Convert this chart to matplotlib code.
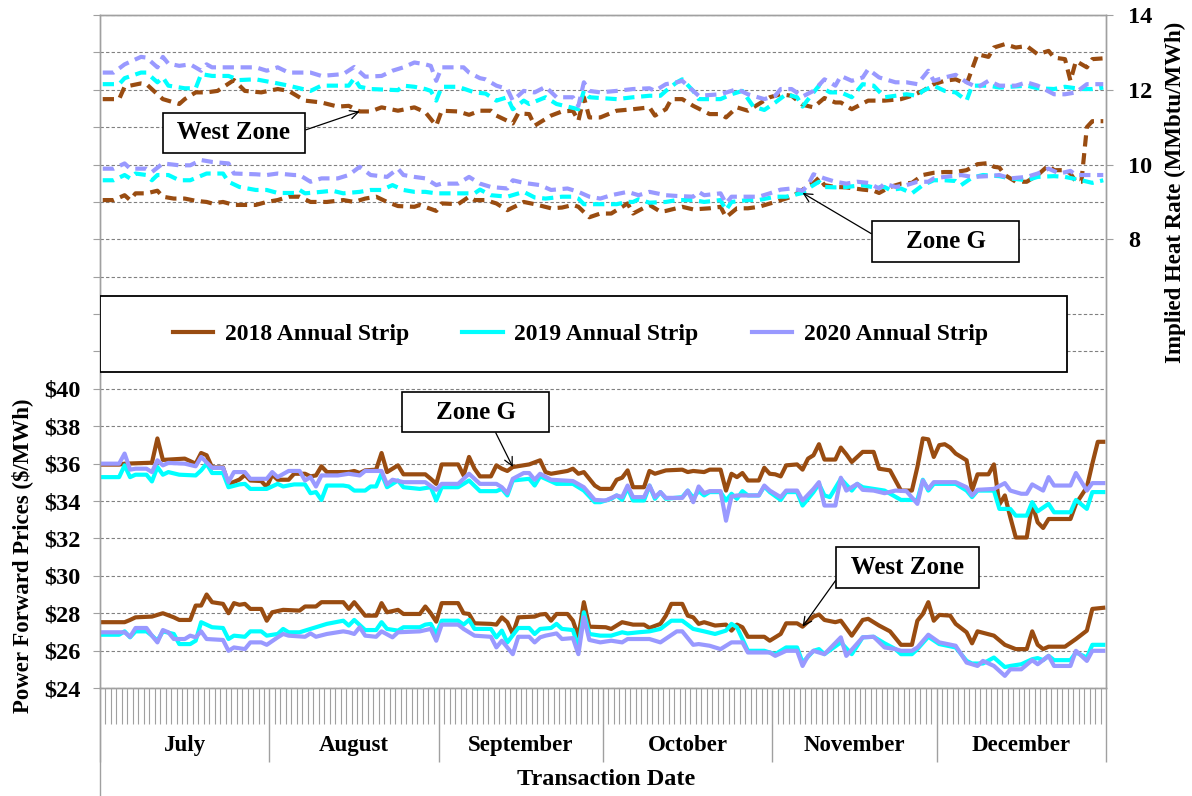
import numpy as np
import matplotlib
matplotlib.use('Agg')
import matplotlib.pyplot as plt
import matplotlib.transforms as mtransforms
from matplotlib.lines import Line2D
from matplotlib.patches import Rectangle
from matplotlib.ticker import FuncFormatter

plt.rcParams['font.family'] = ['Liberation Serif', 'DejaVu Serif']
plt.rcParams['font.weight'] = 'bold'
plt.rcParams['axes.labelweight'] = 'bold'

months = ['July', 'August', 'September', 'October', 'November', 'December']
month_days = [31, 31, 30, 31, 30, 31]
strips = ['2018 Annual Strip', '2019 Annual Strip', '2020 Annual Strip']
colors = ['#994C11', '#00FFFF', '#9999FF']

# (day since July 1, $/MWh) forward prices
zone_g_18 = [(0,35.95),(3,35.95),(4,36.0),(9,36.05),(10,37.35),(11,36.2),(15,36.27),(17,36.0),(18,36.57),(19,36.45),(20,35.8),(22,35.8),(23,34.9),(25,35.15),(26,35.4),(27,35.1),(29,35.07),(30,34.75),(31,35.41),(32,35.14),(34,35.14),(35,35.46),(37,35.46),(38,35.32),(39,35.37),(40,35.86),(41,35.55),(45,35.55),(46,35.61),(47,35.5),(48,35.64),(50,35.68),(51,36.57),(52,35.55),(54,35.91),(55,35.43),(59,35.43),(60,35.19),(61,34.92),(62,35.96),(65,35.96),(66,35.37),(67,36.36),(68,35.73),(69,35.32),(71,35.32),(72,35.91),(73,35.73),(74,35.61),(75,35.82),(78,35.96),(80,36.18),(81,35.55),(82,35.46),(85,35.61),(86,35.73),(87,35.46),(88,35.55),(90,34.83),(91,34.65),(93,34.65),(94,35.14),(95,35.25),(96,35.64),(97,34.74),(99,34.74),(100,35.61),(101,35.46),(103,35.64),(106,35.68),(107,35.55),(108,35.61),(110,35.55),(111,35.68),(113,35.68),(114,34.56),(115,35.46),(116,35.28),(117,35.5),(118,35.1),(120,35.1),(121,35.78),(122,35.46),(123,35.43),(124,35.32),(125,35.91),(127,35.96),(128,35.68),(129,36.27),(130,36.45),(131,37.04),(132,36.22),(134,36.22),(135,36.86),(136,36.5),(137,36.09),(139,36.63),(141,36.63),(142,35.73),(144,35.64),(146,34.56),(148,34.56),(149,35.82),(150,37.35),(151,37.3),(152,36.36),(153,36.99),(154,37.04),(155,36.86),(156,36.54),(158,36.18),(159,34.56),(160,35.43),(162,35.43),(163,35.96),(164,33.82),(165,34.3),(166,33.13),(167,32.05),(169,32.05),(170,33.85),(171,32.86),(172,32.56),(173,33.04),(177,33.04),(178,33.85),(180,34.74),(181,36.0),(182,37.17),(183,37.17)]
zone_g_19 = [(0,35.28),(3,35.28),(4,35.91),(5,35.28),(6,35.41),(8,35.41),(9,35.05),(10,35.82),(11,35.41),(12,35.55),(14,35.41),(17,35.37),(18,35.64),(19,36.0),(20,35.5),(22,35.5),(23,34.74),(25,34.89),(26,34.92),(27,34.65),(30,34.65),(32,34.92),(33,34.78),(35,34.89),(37,34.89),(38,34.42),(39,34.48),(40,34.06),(41,34.83),(44,34.83),(45,34.78),(46,34.56),(48,34.56),(49,34.78),(50,34.78),(51,35.46),(52,34.74),(54,35.1),(55,34.74),(58,34.65),(60,34.74),(61,34.03),(62,34.74),(65,34.74),(67,35.1),(69,34.53),(72,34.53),(73,34.65),(74,34.3),(75,35.1),(78,35.19),(79,34.83),(80,35.32),(83,34.92),(86,34.92),(88,34.56),(90,33.94),(91,33.94),(93,34.12),(94,34.3),(95,34.06),(96,34.71),(97,34.03),(99,34.03),(100,34.83),(101,34.12),(102,34.48),(103,34.12),(106,34.21),(107,34.56),(108,34.17),(109,34.53),(110,34.3),(111,34.48),(113,34.48),(114,34.03),(115,34.39),(116,34.12),(117,34.53),(118,34.3),(120,34.3),(121,34.78),(122,34.48),(124,34.06),(125,34.48),(127,34.48),(128,33.76),(130,34.48),(131,34.92),(132,34.3),(133,34.21),(135,35.19),(137,34.56),(138,34.92),(139,34.74),(141,34.65),(143,34.56),(146,34.06),(149,34.06),(150,35.14),(151,34.56),(152,34.92),(156,34.92),(158,34.56),(159,34.21),(160,34.56),(163,34.56),(164,33.58),(166,33.58),(167,33.22),(169,33.22),(170,33.94),(171,33.45),(173,33.85),(174,33.4),(177,33.4),(178,34.06),(180,33.58),(181,34.48),(183,34.48)]
zone_g_20 = [(0,36.0),(3,36.0),(4,36.54),(5,35.68),(6,35.73),(8,35.73),(9,35.55),(10,36.18),(11,35.91),(12,36.04),(15,36.0),(17,35.86),(18,36.36),(20,35.78),(22,35.78),(23,35.01),(24,35.55),(26,35.55),(27,35.19),(30,35.19),(31,35.55),(32,35.28),(34,35.61),(36,35.61),(37,35.1),(38,35.28),(39,34.78),(40,35.37),(43,35.37),(45,35.46),(47,35.37),(48,35.61),(51,35.61),(52,34.89),(53,35.14),(55,35.01),(59,35.01),(61,34.6),(62,34.92),(65,34.92),(67,35.46),(69,34.92),(72,34.92),(73,34.74),(74,34.42),(75,35.19),(77,35.5),(78,35.5),(79,35.14),(80,35.46),(82,35.14),(86,35.07),(88,34.74),(90,34.06),(92,34.03),(94,34.3),(95,34.21),(96,34.83),(97,34.21),(99,34.21),(100,34.83),(101,34.21),(102,34.48),(103,34.17),(106,34.17),(107,34.56),(108,33.94),(109,34.78),(110,34.42),(111,34.53),(113,34.53),(114,32.95),(115,34.24),(116,34.3),(120,34.3),(121,34.83),(122,34.56),(124,34.21),(125,34.56),(127,34.56),(128,34.03),(130,34.65),(131,35.01),(132,33.76),(134,33.76),(135,35.25),(136,34.56),(138,34.92),(139,34.6),(141,34.56),(143,34.42),(145,34.56),(147,34.53),(149,33.85),(150,35.1),(151,34.65),(152,35.01),(156,35.01),(158,34.74),(159,34.3),(160,34.6),(163,34.65),(165,34.96),(166,34.56),(168,34.39),(169,34.39),(170,34.89),(172,34.56),(173,35.28),(174,34.83),(177,34.83),(178,35.5),(180,34.56),(181,34.96),(183,34.96)]
west_18 = [(0,27.52),(4,27.52),(5,27.64),(6,27.78),(9,27.82),(11,28.0),(13,27.78),(14,27.64),(16,27.64),(17,28.41),(18,28.41),(19,29.0),(20,28.59),(22,28.5),(23,28.0),(24,28.54),(25,28.45),(26,28.5),(27,28.23),(29,28.23),(30,27.6),(31,28.05),(33,28.18),(36,28.14),(37,28.36),(39,28.36),(40,28.59),(44,28.59),(45,28.23),(46,28.59),(48,27.87),(50,27.87),(51,28.54),(52,28.05),(54,28.18),(55,27.96),(58,27.96),(59,28.36),(60,28.0),(61,27.55),(62,28.54),(65,28.54),(66,28.0),(67,27.96),(68,27.46),(71,27.43),(72,27.39),(73,27.78),(74,27.52),(75,26.89),(76,27.78),(79,27.82),(80,27.93),(81,27.96),(82,27.6),(83,27.96),(85,27.96),(86,27.6),(87,26.74),(88,28.59),(89,27.28),(92,27.25),(93,27.16),(95,27.52),(97,27.39),(99,27.39),(100,27.21),(102,27.43),(103,27.87),(104,28.5),(106,28.5),(107,27.87),(108,27.78),(109,27.43),(110,27.52),(112,27.34),(114,27.39),(115,27.07),(116,27.39),(117,27.25),(118,26.74),(121,26.74),(122,26.53),(124,26.89),(125,27.46),(127,27.46),(128,27.28),(130,27.82),(131,27.93),(132,27.64),(134,27.52),(135,27.6),(137,26.8),(139,27.64),(140,27.7),(142,27.34),(144,27.03),(146,26.31),(148,26.31),(149,27.6),(150,27.96),(151,28.59),(152,27.6),(153,27.91),(155,27.87),(156,27.43),(158,26.98),(159,26.39),(160,27.03),(163,26.8),(165,26.31),(167,26.08),(169,26.08),(170,27.03),(171,26.31),(172,26.08),(173,26.21),(176,26.21),(178,26.62),(180,27.07),(181,28.23),(183,28.29)]
west_19 = [(0,26.85),(3,26.85),(4,27.03),(5,26.71),(6,27.03),(8,27.03),(9,26.8),(10,26.53),(11,27.03),(13,26.89),(14,26.35),(16,26.35),(17,26.53),(18,27.52),(20,27.25),(22,27.21),(23,26.62),(24,26.8),(26,26.74),(27,27.03),(29,27.03),(30,26.8),(32,26.89),(33,27.16),(34,26.98),(36,26.98),(38,27.16),(39,27.25),(41,27.43),(44,27.6),(45,27.34),(46,27.64),(48,27.1),(50,27.1),(51,27.52),(52,27.16),(54,27.07),(55,27.25),(58,27.25),(59,27.39),(60,27.43),(61,26.89),(62,27.6),(65,27.6),(66,27.39),(67,27.64),(68,27.16),(71,27.16),(72,26.71),(73,27.07),(74,26.44),(76,27.21),(78,27.21),(79,26.89),(80,27.16),(82,27.21),(83,27.43),(84,27.16),(86,27.1),(87,26.17),(88,28.05),(89,26.89),(91,26.8),(93,26.8),(95,26.98),(96,26.92),(98,26.98),(100,27.03),(102,27.16),(104,27.6),(106,27.6),(108,27.16),(110,27.03),(112,26.89),(114,27.07),(115,27.43),(116,27.25),(118,25.99),(121,25.99),(122,25.9),(123,25.81),(125,26.17),(127,26.17),(128,25.36),(130,25.99),(131,26.08),(132,25.81),(135,26.44),(137,25.81),(139,26.71),(141,26.74),(143,26.39),(145,26.08),(146,25.81),(148,25.81),(149,26.08),(151,26.74),(153,26.35),(156,26.17),(158,25.45),(159,25.31),(161,25.31),(163,25.63),(165,25.12),(166,25.18),(168,25.27),(170,25.54),(171,25.6),(172,25.49),(173,25.72),(174,25.49),(177,25.49),(178,25.9),(180,25.63),(181,26.31),(183,26.31)]
west_20 = [(0,26.98),(4,26.98),(5,26.74),(6,27.21),(8,27.21),(9,26.8),(10,26.44),(11,27.1),(12,26.98),(13,26.62),(15,26.62),(16,26.8),(17,26.71),(18,27.03),(19,26.62),(22,26.57),(23,25.99),(24,26.17),(26,26.08),(27,26.44),(29,26.44),(30,26.31),(32,26.71),(33,26.89),(34,26.8),(37,26.74),(38,26.92),(39,26.74),(41,26.89),(44,27.03),(45,26.98),(46,26.89),(47,27.25),(48,26.8),(50,26.74),(51,27.03),(53,26.71),(54,26.98),(58,27.03),(60,27.16),(61,26.53),(62,27.39),(65,27.39),(66,27.16),(68,26.8),(71,26.74),(72,26.17),(73,26.53),(75,25.81),(76,26.74),(78,26.74),(79,26.44),(80,26.71),(81,26.8),(83,26.92),(84,26.62),(86,26.67),(87,25.81),(88,27.78),(89,26.57),(91,26.44),(93,26.53),(95,26.44),(96,26.62),(100,26.62),(102,26.44),(105,27.03),(106,27.03),(108,26.31),(109,26.35),(111,26.26),(113,26.08),(115,26.44),(117,26.44),(118,25.9),(122,25.9),(123,25.72),(125,25.99),(127,25.99),(128,25.18),(129,25.72),(130,25.99),(132,25.81),(135,26.71),(136,25.72),(139,26.71),(141,26.74),(143,26.17),(145,26.08),(146,25.99),(148,25.99),(149,26.17),(151,26.85),(153,26.44),(156,26.26),(158,25.36),(160,25.18),(161,25.45),(163,25.18),(165,24.65),(166,25.0),(168,25.0),(170,25.49),(171,25.27),(173,25.72),(174,25.18),(177,25.18),(178,25.99),(180,25.45),(181,25.99),(183,25.99)]

# (day since July 1, MMbtu/MWh) implied heat rates
west_hr_18 = [(0,11.75),(3,11.75),(4,12.08),(7,12.17),(8,12.15),(10,11.88),(11,11.75),(14,11.62),(15,11.75),(17,11.93),(19,11.93),(21,11.97),(24,12.26),(26,11.97),(29,11.93),(32,12.02),(34,11.97),(37,11.71),(40,11.66),(43,11.55),(45,11.57),(47,11.42),(49,11.42),(51,11.53),(54,11.44),(57,11.53),(59,11.4),(61,11.04),(62,11.44),(65,11.42),(67,11.33),(69,11.44),(71,11.44),(72,11.31),(75,11.1),(76,11.37),(78,11.35),(79,11.04),(82,11.31),(84,11.42),(86,11.44),(87,11.17),(88,11.8),(89,11.26),(91,11.26),(94,11.44),(97,11.48),(100,11.53),(101,11.31),(103,11.48),(104,11.75),(106,11.75),(108,11.57),(111,11.35),(113,11.35),(114,11.26),(116,11.53),(118,11.44),(120,11.62),(122,11.8),(124,11.88),(126,11.84),(128,11.6),(130,11.53),(132,11.78),(134,11.66),(135,11.66),(137,11.48),(140,11.71),(143,11.71),(146,11.75),(148,11.84),(150,11.97),(152,12.15),(154,12.24),(156,12.28),(158,12.15),(160,12.95),(162,12.88),(163,13.13),(165,13.22),(167,13.13),(169,13.17),(171,12.95),(173,13.04),(174,12.86),(176,12.82),(177,12.24),(178,12.77),(180,12.6),(181,12.82),(183,12.84)]
west_hr_19 = [(0,12.15),(3,12.15),(4,12.31),(7,12.46),(8,12.46),(10,12.2),(11,12.33),(12,12.11),(15,12.04),(17,12.04),(18,12.42),(20,12.37),(23,12.37),(25,12.26),(28,12.28),(32,12.17),(34,12.11),(36,12.04),(38,11.97),(40,12.11),(45,12.11),(46,12.31),(47,12.08),(49,12.02),(54,11.99),(55,12.11),(57,12.08),(59,12.02),(60,11.97),(61,11.71),(62,12.08),(65,12.08),(68,11.93),(70,11.9),(72,11.71),(74,11.8),(75,11.48),(77,11.71),(78,11.62),(81,11.8),(83,11.62),(85,11.55),(87,11.48),(88,11.97),(89,11.8),(94,11.75),(97,11.8),(100,11.84),(102,11.84),(103,11.97),(105,12.2),(106,12.28),(108,11.97),(109,11.75),(113,11.75),(115,11.88),(117,11.97),(119,11.55),(121,11.46),(123,11.66),(125,11.88),(127,11.8),(128,11.55),(130,11.93),(131,12.11),(133,11.93),(135,11.93),(137,11.8),(139,12.15),(141,12.11),(143,11.8),(145,11.84),(147,11.88),(149,11.84),(150,11.97),(152,12.11),(154,11.97),(156,11.93),(158,11.71),(159,12.11),(162,12.11),(164,12.06),(166,12.08),(169,12.11),(171,12.04),(174,12.02),(176,12.08),(179,12.02),(181,12.02),(183,12.06)]
west_hr_20 = [(0,12.46),(2,12.46),(4,12.68),(7,12.88),(8,12.86),(10,12.6),(11,12.88),(12,12.7),(14,12.64),(16,12.68),(18,12.51),(19,12.68),(20,12.6),(25,12.6),(28,12.6),(30,12.51),(32,12.6),(34,12.46),(38,12.46),(40,12.37),(44,12.42),(46,12.61),(48,12.35),(51,12.37),(53,12.51),(55,12.6),(57,12.73),(59,12.68),(60,12.64),(61,12.24),(62,12.6),(66,12.6),(67,12.46),(69,12.31),(70,12.28),(72,12.11),(74,12.02),(75,11.71),(77,11.97),(79,11.93),(81,12.08),(83,11.8),(86,11.8),(87,11.57),(88,12.2),(89,11.97),(91,11.93),(94,11.97),(97,12.02),(100,12.04),(101,11.97),(103,12.15),(105,12.2),(106,12.24),(108,11.97),(109,11.84),(113,11.88),(115,11.97),(116,12.02),(118,11.88),(121,11.75),(123,11.84),(124,12.02),(126,12.02),(128,11.82),(130,11.97),(132,12.28),(133,12.2),(134,12.11),(135,12.37),(137,12.24),(139,12.33),(140,12.55),(142,12.33),(145,12.2),(147,12.2),(149,12.15),(151,12.51),(152,12.24),(154,12.33),(156,12.4),(158,12.2),(160,12.06),(162,12.24),(164,12.11),(167,12.11),(169,12.2),(171,12.11),(174,11.88),(176,11.88),(178,11.93),(180,12.15),(183,12.15)]
zone_g_hr_18 = [(0,9.05),(2,9.05),(4,9.18),(5,9.05),(6,9.23),(8,9.23),(10,9.3),(11,9.14),(13,9.09),(15,9.09),(17,9.03),(19,9.0),(20,8.96),(22,9.0),(24,8.92),(28,8.92),(30,9.0),(32,9.05),(34,9.14),(36,9.14),(38,9.0),(41,9.0),(44,9.05),(46,9.0),(48,9.09),(50,9.14),(52,9.0),(54,8.89),(57,8.87),(58,8.92),(61,8.76),(62,8.96),(65,8.94),(67,9.14),(68,9.05),(70,9.05),(72,8.96),(74,8.78),(76,8.92),(77,9.0),(79,8.94),(82,8.83),(84,8.85),(86,8.92),(87,8.87),(89,8.59),(91,8.69),(93,8.69),(96,8.96),(97,8.69),(100,8.92),(102,8.74),(103,8.76),(106,8.87),(108,8.8),(111,8.83),(113,8.87),(114,8.59),(116,8.83),(118,8.83),(120,8.87),(123,9.0),(126,9.14),(128,9.32),(129,9.45),(130,9.5),(131,9.65),(132,9.45),(134,9.4),(136,9.39),(139,9.33),(141,9.3),(142,9.24),(144,9.4),(146,9.49),(148,9.51),(150,9.72),(152,9.78),(154,9.8),(156,9.8),(158,9.85),(160,10.01),(162,10.04),(163,9.94),(164,9.92),(165,9.72),(167,9.54),(169,9.54),(171,9.72),(173,9.98),(174,9.85),(176,9.85),(177,9.76),(178,9.54),(179,9.54),(180,11.0),(181,11.16),(183,11.16)]
zone_g_hr_19 = [(0,9.58),(2,9.58),(4,9.72),(5,9.63),(6,9.76),(8,9.72),(9,9.58),(10,9.72),(12,9.72),(14,9.58),(16,9.58),(19,9.76),(22,9.76),(23,9.54),(25,9.4),(28,9.32),(30,9.32),(32,9.24),(35,9.24),(36,9.32),(37,9.23),(40,9.27),(42,9.3),(44,9.23),(47,9.27),(49,9.32),(51,9.32),(53,9.45),(55,9.32),(57,9.27),(59,9.27),(61,9.23),(65,9.23),(68,9.23),(69,9.33),(71,9.18),(74,9.14),(77,9.27),(79,9.12),(81,9.09),(84,9.14),(86,9.14),(87,9.09),(88,8.94),(91,8.94),(94,8.94),(96,9.0),(97,9.0),(98,9.07),(100,8.98),(103,9.0),(105,9.05),(108,9.05),(110,9.0),(113,9.05),(114,8.78),(115,9.0),(118,9.05),(120,9.05),(123,9.14),(125,9.14),(128,9.24),(129,9.36),(131,9.54),(132,9.4),(134,9.39),(136,9.4),(139,9.45),(141,9.39),(143,9.4),(144,9.32),(146,9.36),(148,9.23),(150,9.45),(152,9.58),(154,9.58),(156,9.56),(157,9.45),(159,9.65),(161,9.72),(164,9.69),(166,9.63),(169,9.58),(171,9.67),(174,9.69),(176,9.67),(179,9.58),(181,9.51),(183,9.58)]
zone_g_hr_20 = [(0,9.89),(2,9.89),(4,10.03),(5,9.89),(8,9.89),(9,9.8),(11,10.03),(14,9.98),(16,9.98),(18,10.12),(20,10.07),(23,10.03),(24,9.76),(28,9.74),(30,9.72),(32,9.76),(35,9.72),(36,9.72),(38,9.54),(40,9.63),(43,9.63),(45,9.72),(47,9.94),(49,9.72),(52,9.67),(54,9.89),(55,9.72),(57,9.67),(59,9.63),(61,9.45),(62,9.49),(65,9.49),(67,9.67),(69,9.49),(71,9.4),(74,9.36),(75,9.58),(77,9.51),(80,9.45),(82,9.32),(85,9.36),(87,9.27),(89,9.14),(91,9.09),(93,9.18),(96,9.27),(98,9.18),(100,9.27),(103,9.18),(105,9.16),(108,9.14),(109,9.27),(110,9.18),(113,9.23),(114,8.96),(115,9.14),(118,9.14),(120,9.14),(122,9.23),(124,9.33),(126,9.36),(128,9.3),(129,9.45),(130,9.74),(132,9.63),(134,9.54),(136,9.49),(138,9.54),(140,9.51),(142,9.36),(143,9.49),(145,9.4),(147,9.45),(149,9.54),(151,9.54),(152,9.63),(154,9.67),(157,9.72),(159,9.67),(162,9.69),(164,9.72),(166,9.63),(169,9.67),(171,9.76),(173,9.89),(175,9.76),(177,9.83),(178,9.72),(180,9.72),(183,9.72)]

grey = '#A0A0A0'

fig = plt.figure(figsize=(11.92, 7.96), dpi=100)
ax = fig.add_axes([100 / 1192, 108 / 796, 1006 / 1192, 673 / 796])
ax2 = ax.twinx()

# solid lines = prices (left axis), dashed = heat rates (right axis)
price_lines = []
for g, w, c in zip([zone_g_18, zone_g_19, zone_g_20], [west_18, west_19, west_20], colors):
    for s in (g, w):
        d, v = zip(*s)
        ln, = ax.plot(d, v, color=c, lw=3, zorder=3)
    price_lines.append(ln)

for g, w, c in zip([zone_g_hr_18, zone_g_hr_19, zone_g_hr_20],
                   [west_hr_18, west_hr_19, west_hr_20], colors):
    for s in (g, w):
        d, v = zip(*s)
        ax2.plot(d, v, color=c, lw=3, linestyle=(0, (2.7, 1.6)), zorder=3)

ax.set_xlim(-0.5, 183.5)
ax.set_ylim(24, 60)
ax2.set_ylim(-4, 14)

ax.set_axisbelow(True)
ax.set_yticks(np.arange(24, 61, 2))
ax.yaxis.set_major_formatter(FuncFormatter(lambda v, p: f'${v:.0f}' if v <= 40 else ''))
ax.yaxis.grid(True, color='#808080', linestyle=(0, (3, 2)), linewidth=0.8)
ax.tick_params(axis='y', direction='out', length=5, width=0.8, color=grey,
               labelsize=17.5, pad=9)

ax2.set_yticks([8, 10, 12, 14])
ax2.yaxis.set_major_formatter(FuncFormatter(lambda v, p: f'{v:.0f}'))
ax2.tick_params(axis='y', direction='out', length=5, width=0.8, color=grey,
                labelsize=17.5, pad=11)

# day ticks and month separators
bounds = np.cumsum([0] + month_days) - 0.5
ax.set_xticks(bounds)
ax.set_xticks(np.arange(0.5, 183, 1), minor=True)
ax.tick_params(axis='x', which='major', length=53, width=1, color=grey, labelbottom=False)
ax.tick_params(axis='x', which='minor', length=26, width=0.8, color=grey)

trans = mtransforms.blended_transform_factory(ax.transData, ax.transAxes)
ax.add_line(Line2D([bounds[0], bounds[0]], [0, -0.161], transform=trans,
                   color=grey, lw=1, clip_on=False))
for i, name in enumerate(months):
    ax.text((bounds[i] + bounds[i + 1]) / 2, -0.0847, name, transform=trans,
            ha='center', va='center', fontsize=16.5)

for a in (ax, ax2):
    for sp in a.spines.values():
        sp.set_color(grey)
        sp.set_linewidth(1)

ax.set_ylabel('Power Forward Prices ($/MWh)', fontsize=16.5, va='center')
ax.yaxis.set_label_coords(-0.0775, 0.196)
ax2.set_ylabel('Implied Heat Rate (MMbtu/MWh)', fontsize=16.5, va='center')
ax2.yaxis.set_label_coords(1.0686, 0.737)
ax.set_xlabel('Transaction Date', fontsize=17.5, va='center')
ax.xaxis.set_label_coords(0.503, -0.1367)

# legend in a plain boxed band
ax2.add_patch(Rectangle((0, 0.4695), 0.961, 0.113, transform=ax2.transAxes,
                        facecolor='white', edgecolor='black', lw=1.3, zorder=4))
leg = ax2.legend(price_lines, strips, loc='center', bbox_to_anchor=(0.4776, 0.526),
                 ncol=3, frameon=False, fontsize=17, handlelength=1.7,
                 handletextpad=0.5, columnspacing=2.25)
leg.set_zorder(5)

box = dict(boxstyle='square,pad=0.35', fc='white', ec='black', lw=1.2)


def arrow(rel):
    return dict(arrowstyle='->', color='black', lw=0.9, shrinkA=0, shrinkB=0,
                mutation_scale=15, relpos=rel)


ax2.annotate(' West Zone ', xy=(47, dict(west_hr_18)[47]), xytext=(0.1332, 0.8247),
             textcoords='axes fraction', ha='center', va='center', fontsize=18,
             bbox=box, arrowprops=arrow((1, 0.5)), zorder=6)
ax2.annotate('    Zone G    ', xy=(128, dict(zone_g_hr_19)[128]), xytext=(0.8405, 0.6635),
             textcoords='axes fraction', ha='center', va='center', fontsize=18,
             bbox=box, arrowprops=arrow((0, 0.6)), zorder=6)
ax.annotate('    Zone G    ', xy=(75, dict(zone_g_18)[75]), xytext=(0.3733, 0.4101),
            textcoords='axes fraction', ha='center', va='center', fontsize=18,
            bbox=box, arrowprops=arrow((0.62, 0)), zorder=6)
ax.annotate(' West Zone ', xy=(128, dict(west_18)[128]), xytext=(0.8027, 0.179),
            textcoords='axes fraction', ha='center', va='center', fontsize=18,
            bbox=box, arrowprops=arrow((0, 0.5)), zorder=6)

fig.savefig('out.png', dpi=100)
